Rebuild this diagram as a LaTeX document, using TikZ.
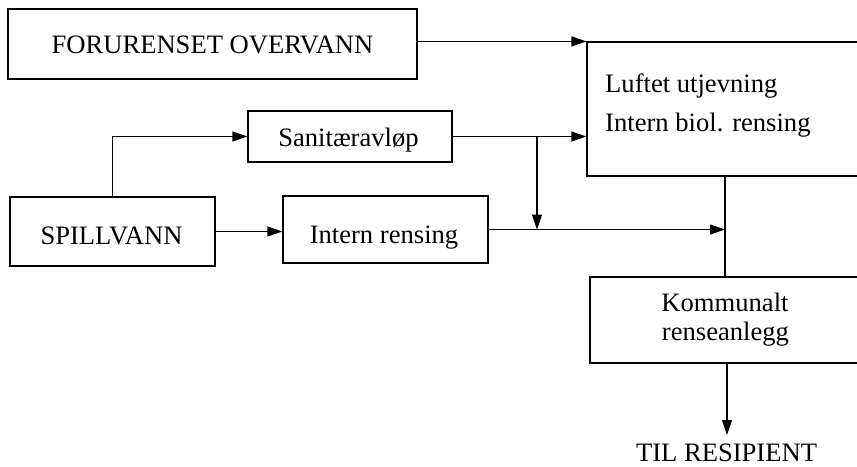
\documentclass[tikz,border=0pt]{standalone}
\usepackage{fontspec}
\setmainfont{Liberation Serif}
\usetikzlibrary{arrows.meta,calc}
\begin{document}
\begin{tikzpicture}[x=1pt,y=-1pt,
  box/.style={draw,line width=1.2pt,rectangle,inner sep=0pt},
  txt/.style={inner sep=0pt,font=\fontsize{26.6}{30}\selectfont},
  line/.style={line width=1.2pt},
  arr/.style={line width=1.2pt,-{Triangle[length=15pt,width=10pt]}}]
\useasboundingbox (0,0) rectangle (857,466);
\clip (0,0) rectangle (857,466);
% boxes
\node[box,minimum width=409pt,minimum height=70pt] (forur) at (212.5,44) {};
\node[box,minimum width=313pt,minimum height=134pt] (luft) at (743.5,109) {};
\node[box,minimum width=204pt,minimum height=51pt] (sani) at (350,136.5) {};
\node[box,minimum width=205pt,minimum height=69pt] (spill) at (112.5,231.5) {};
\node[box,minimum width=205pt,minimum height=67pt] (intern) at (385.5,229.5) {};
\node[box,minimum width=310pt,minimum height=86pt] (komm) at (745,320) {};
% texts
\node[txt,anchor=base] (forurT) at (212.5,53.3) {FORURENSET OVERVANN};
\node[txt,anchor=base west] (luftA) at (605,92.5) {Luftet utjevning};
\node[txt,anchor=base west] (luftB) at (605,131.7) {Intern biol. rensing};
\node[txt,anchor=base] (saniT) at (348.5,146.7) {Sanitæravløp};
\node[txt,anchor=base] (spillT) at (111.5,244) {SPILLVANN};
\node[txt,anchor=base] (internT) at (384,243.3) {Intern rensing};
\node[txt,anchor=base] (kommA) at (725,311.7) {Kommunalt};
\node[txt,anchor=base] (kommB) at (725.5,340) {renseanlegg};
\node[txt,anchor=base] (til) at (726.5,461.5) {TIL RESIPIENT};
% helper coordinates
\coordinate (bx) at (537,0);
\coordinate (vx) at (725,0);
\coordinate (tiltop) at (727,435);
% connectors
\draw[arr] (forur.east |- luft.north west) -- (luft.north west);
\draw[arr] (sani.east) -- (sani.east -| luft.west);
\draw[arr] (sani.east -| bx) -- (intern.east -| bx);
\draw[arr] (spill.north) |- (sani.west);
\draw[arr] (spill.east) -- (spill.east -| intern.west);
\draw[arr] (intern.east) -- (intern.east -| vx);
\draw[line] (luft.south -| vx) -- (komm.north -| vx);
\draw[arr] (komm.south -| tiltop) -- (tiltop);
\end{tikzpicture}
\end{document}
